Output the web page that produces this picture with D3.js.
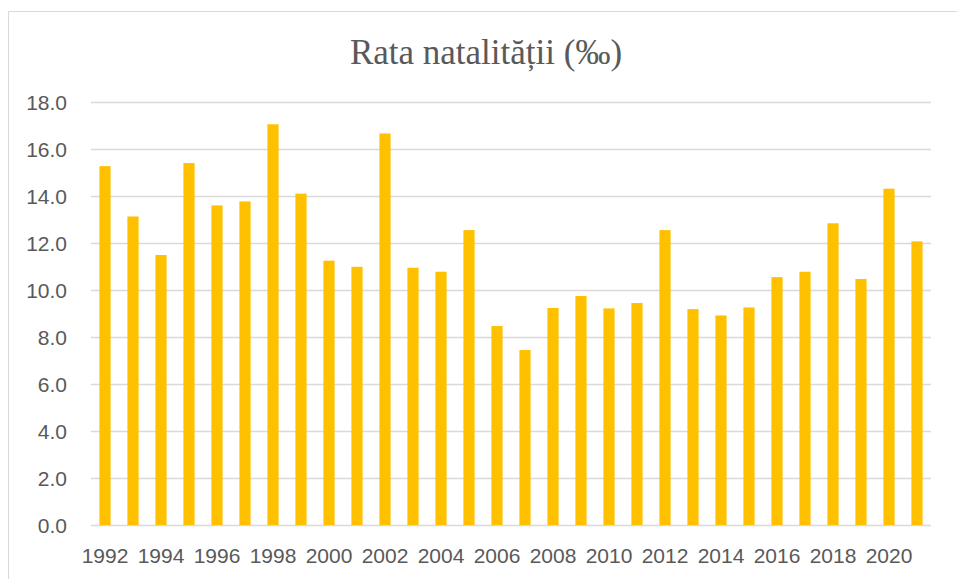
<!DOCTYPE html>
<meta charset="utf-8">
<style>
    body {
        margin: 0;
        background: #fff;
    }
    .axis .domain {
        display: none;
    }
    .axis text {
        font-family: "Liberation Sans", Arial, sans-serif;
        font-size: 21px;
        fill: #595959;
    }
</style>

<svg width="957" height="579"></svg>
<script src="https://d3js.org/d3.v7.min.js"></script>
<script>

    var years = d3.range(1992, 2022).map(String);
    var birthRate = [15.26, 13.12, 11.48, 15.39, 13.59, 13.76, 17.04, 14.09, 11.24, 10.98,
                     16.65, 10.94, 10.77, 12.54, 8.46, 7.44, 9.23, 9.74, 9.21, 9.44,
                     12.54, 9.18, 8.91, 9.25, 10.54, 10.77, 12.83, 10.46, 14.30, 12.06];
    var yTicks = [0, 2, 4, 6, 8, 10, 12, 14, 16, 18];
    var xTickLabels = years.filter(function(d, i) { return i % 2 === 0; });

    var data = years.map(function(y, i) { return {year: y, value: birthRate[i]}; });

    var svg = d3.select("svg");

    // chart frame (only top and left edge visible)
    svg.append("path")
        .attr("d", "M8.5,579V11.5H957")
        .attr("fill", "none")
        .attr("stroke", "#d9d9d9")
        .attr("stroke-width", 1);

    var x = d3.scaleBand()
        .domain(years)
        .range([91, 931])
        .paddingInner(0.6)
        .paddingOuter(0.3);

    var y = d3.scaleLinear()
        .domain([0, 18])
        .range([525, 101.7]);

    // grid
    svg.append("g")
        .selectAll("line")
        .data(yTicks)
        .enter().append("line")
        .attr("x1", 91)
        .attr("x2", 931)
        .attr("y1", function(d) { return Math.round(y(d)) + 0.5; })
        .attr("y2", function(d) { return Math.round(y(d)) + 0.5; })
        .attr("stroke", "#d9d9d9")
        .attr("stroke-width", 1.3);

    svg.append("g")
        .selectAll("rect")
        .data(data)
        .enter().append("rect")
        .attr("x", function(d) { return x(d.year); })
        .attr("y", function(d) { return y(d.value); })
        .attr("width", x.bandwidth())
        .attr("height", function(d) { return y(0) - y(d.value); })
        .attr("fill", "#ffc000");

    svg.append("g")
        .attr("class", "axis")
        .attr("transform", "translate(67,0)")
        .call(d3.axisLeft(y).tickValues(yTicks).tickSize(0).tickPadding(0).tickFormat(d3.format(".1f")))
        .selectAll("text")
        .attr("dy", "0.35em");

    svg.append("g")
        .attr("class", "axis")
        .attr("transform", "translate(0,533)")
        .call(d3.axisBottom(x).tickValues(xTickLabels).tickSize(0).tickPadding(0))
        .selectAll("text")
        .attr("dy", "1.45em");

    svg.append("text")
        .attr("x", 486)
        .attr("y", 64)
        .attr("text-anchor", "middle")
        .style("font-family", "'Liberation Serif', 'DejaVu Serif', serif")
        .style("font-size", "35px")
        .style("fill", "#595959")
        .text("Rata natalității (‰)");

</script>
